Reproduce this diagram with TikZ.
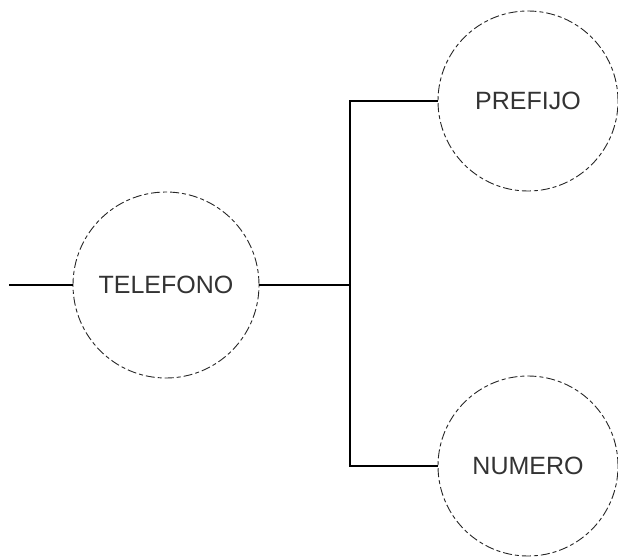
\documentclass[tikz,border=0pt]{standalone}
\usepackage{fontspec}
\setmainfont{Liberation Sans}
\begin{document}
\begin{tikzpicture}[x=1pt,y=-1pt,
  entity/.style={circle, draw=black!85, line width=0.9pt,
    dash pattern=on 9pt off 3pt on 4pt off 3pt,
    minimum size=#1, inner sep=0pt, font=\fontsize{25}{25}\selectfont, text=black!80},
  link/.style={draw=black, line width=1.4pt}]
  \useasboundingbox (0,0) rectangle (618,559);
  % attribute circles
  \node[entity=186pt] (tel) at (166,285) {TELEFONO};
  \node[entity=180pt] (pre) at (528,101) {PREFIJO};
  \node[entity=180pt] (num) at (528,466) {NUMERO};
  % branch points
  \coordinate (in) at (9,285);
  \coordinate (j) at (350,285);
  % connectors
  \draw[link] (in) -- (tel.west);
  \draw[link] (tel.east) -- (j);
  \draw[link] (j) |- (pre.west);
  \draw[link] (j) |- (num.west);
\end{tikzpicture}
\end{document}
